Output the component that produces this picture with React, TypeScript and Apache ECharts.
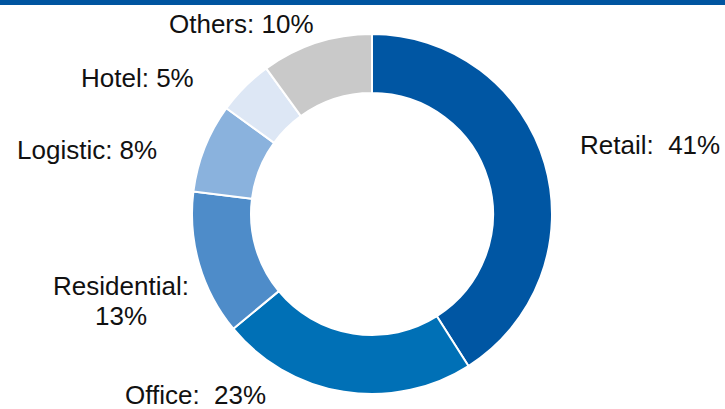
import React, { useEffect, useRef } from "react";
import * as echarts from "echarts";

const categories = ["Retail", "Office", "Residential", "Logistic", "Hotel", "Others"];
const shares = [41, 23, 13, 8, 5, 10];
const labelTexts = ["Retail:  41%", "Office:  23%", "Residential:\n13%", "Logistic: 8%", "Hotel: 5%", "Others: 10%"];
const colors = ["#0056A3", "#0070B6", "#4E8CC9", "#8AB2DD", "#DDE7F5", "#C9C9C9"];

// label anchor positions (x, y, align, lineHeight) per slice
const labelPos: [number, number, string, number][] = [
  [580, 145, "left", 30],
  [125, 395, "left", 26],
  [121, 301, "center", 30],
  [17, 150, "left", 30],
  [81, 78, "left", 30],
  [169, 24, "left", 30],
];

export default function App() {
  const ref = useRef<HTMLDivElement>(null);
  useEffect(() => {
    if (!ref.current) return;
    const chart = echarts.init(ref.current, undefined, { renderer: "svg" });
    const data = categories.map((c, i) => ({
      name: c,
      value: shares[i],
      itemStyle: { color: colors[i] },
      label: {
        formatter: labelTexts[i],
        lineHeight: labelPos[i][3],
        align: labelPos[i][2],
      },
    }));
    chart.setOption({
      animation: false,
      graphic: [
        {
          type: "rect",
          shape: { x: 0, y: 0, width: 725, height: 5 },
          style: { fill: "#0055A0" },
        },
      ],
      series: [
        {
          type: "pie",
          center: [372, 214],
          radius: [121, 180],
          startAngle: 90,
          clockwise: true,
          avoidLabelOverlap: false,
          itemStyle: { borderColor: "#ffffff", borderWidth: 2 },
          label: {
            show: true,
            position: "outside",
            color: "#111111",
            fontFamily: "Liberation Sans, Arial, sans-serif",
            fontSize: 26,
            lineHeight: 30,
          },
          labelLine: { show: false },
          labelLayout: (params: any) => {
            const p = labelPos[params.dataIndex];
            return {
              x: p[0],
              y: p[1],
              align: p[2],
              verticalAlign: "middle",
              hideOverlap: false,
            };
          },
          data,
        },
      ],
    });
    return () => chart.dispose();
  }, []);
  return (
    <div
      ref={ref}
      style={{ position: "fixed", left: 0, top: 0, width: 725, height: 409, background: "#ffffff" }}
    />
  );
}
